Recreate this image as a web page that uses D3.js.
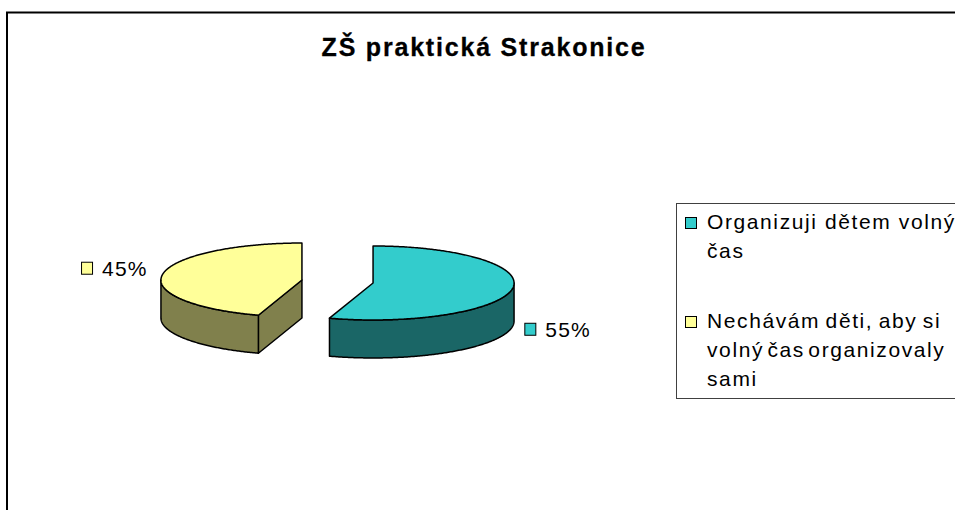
<!DOCTYPE html>
<html><head><meta charset="utf-8">
<script src="https://cdn.jsdelivr.net/npm/d3@7"></script>
<style>body{margin:0;background:#fff}svg{display:block}</style>
</head><body>
<svg id="c" width="955" height="510"></svg>
<script>
const titleText = "ZŠ praktická Strakonice";
const categories = ["Organizuji dětem volný čas", "Nechávám děti, aby si volný čas organizovaly sami"];
const legendLines = [["Organizuji dětem volný", "čas"], ["Nechávám děti, aby si", "volný čas organizovaly", "sami"]];
const values = [55, 45];
const labels = ["55%", "45%"];
const topColors = ["#33CCCC", "#FFFF99"];
const sideColors = ["#1A6666", "#80804C"];
const legendWordSpacing = [[0, 0], [-2, -4, 0]];

const svg = d3.select("#c");
const FONT = "Arial, 'Liberation Sans', sans-serif";

// frame
svg.append("rect").attr("x", 7).attr("y", 12.5).attr("width", 1200).attr("height", 800)
  .attr("fill", "#fff").attr("stroke", "#000").attr("stroke-width", 2);

// title
svg.append("text").attr("x", 484).attr("y", 56).attr("text-anchor", "middle")
  .attr("font-family", FONT).attr("font-weight", "bold").attr("font-size", 25)
  .attr("letter-spacing", 1.8).attr("stroke", "#000").attr("stroke-width", 0.3).text(titleText);

// pie geometry
const cx = 337.5, cy = 281.5, rx = 141, ry = 37, depth = 38, explode = 36;
const pie = d3.pie().sort(null).startAngle(0).endAngle(2 * Math.PI);
const arcs = pie(values);

function P(a, c, z) { return [c[0] + rx * Math.sin(a), c[1] - ry * Math.cos(a) + z]; }
function arcPts(a0, a1, c, z) {
  const n = Math.max(2, Math.ceil(Math.abs(a1 - a0) / 0.01));
  return d3.range(n + 1).map(i => P(a0 + (a1 - a0) * i / n, c, z));
}
const line = d3.line().curve(d3.curveLinearClosed);

const g = svg.append("g").attr("stroke", "#000").attr("stroke-width", 1.5).attr("stroke-linejoin", "round");

arcs.forEach((d, i) => {
  const m = (d.startAngle + d.endAngle) / 2;
  const c = [cx + explode * Math.sin(m), cy - explode * Math.cos(m) * (ry / rx)];
  d.center = c; d.mid = m;
  // walls
  [[d.startAngle, d.startAngle - Math.PI / 2], [d.endAngle, d.endAngle + Math.PI / 2]].forEach(([a, nrm]) => {
    if (Math.cos(nrm) < -1e-6) {
      g.append("path").attr("fill", sideColors[i])
        .attr("d", line([c, P(a, c, 0), P(a, c, depth), [c[0], c[1] + depth]]));
    }
  });
  // outer side (front half)
  const v0 = Math.max(d.startAngle, Math.PI / 2), v1 = Math.min(d.endAngle, 3 * Math.PI / 2);
  if (v1 > v0) {
    g.append("path").attr("fill", sideColors[i])
      .attr("d", line(arcPts(v0, v1, c, 0).concat(arcPts(v1, v0, c, depth))));
  }
});
arcs.forEach((d, i) => {
  g.append("path").attr("fill", topColors[i])
    .attr("d", line([d.center].concat(arcPts(d.startAngle, d.endAngle, d.center, 0))));
});

// data labels
arcs.forEach((d, i) => {
  const rim = P(d.mid, d.center, 0);
  const right = Math.sin(d.mid) > 0;
  const base = right ? rim[1] + depth + 10 : rim[1] + 1.5;
  const lg = svg.append("g");
  const t = lg.append("text").attr("font-family", FONT).attr("font-size", 21)
    .attr("letter-spacing", 1.2).attr("y", base).text(labels[i]);
  const w = t.node().getComputedTextLength();
  const boxX = right ? rim[0] + 12 : rim[0] - 14 - w - 22;
  lg.append("rect").attr("x", boxX + 0.5).attr("y", base - 13.5).attr("width", 11).attr("height", 12)
    .attr("fill", topColors[i]).attr("stroke", "#000").attr("stroke-width", 1);
  t.attr("x", boxX + 21);
});

// legend
svg.append("rect").attr("x", 676.5).attr("y", 203.5).attr("width", 400).attr("height", 195)
  .attr("fill", "#fff").attr("stroke", "#404040").attr("stroke-width", 1);
const lineH = 29, itemGap = 41;
let yb = 229;
categories.forEach((cat, i) => {
  svg.append("rect").attr("x", 685.5).attr("y", yb - 11.5).attr("width", 11).attr("height", 11)
    .attr("fill", topColors[i]).attr("stroke", "#000").attr("stroke-width", 1);
  const t = svg.append("text").attr("font-family", FONT).attr("font-size", 21)
    .attr("letter-spacing", 1.6);
  legendLines[i].forEach((ln, j) => {
    t.append("tspan").attr("x", 707).attr("y", yb + j * lineH)
      .attr("word-spacing", legendWordSpacing[i][j]).text(ln);
  });
  yb += (legendLines[i].length - 1) * lineH + lineH + itemGap;
});
</script>
</body></html>
